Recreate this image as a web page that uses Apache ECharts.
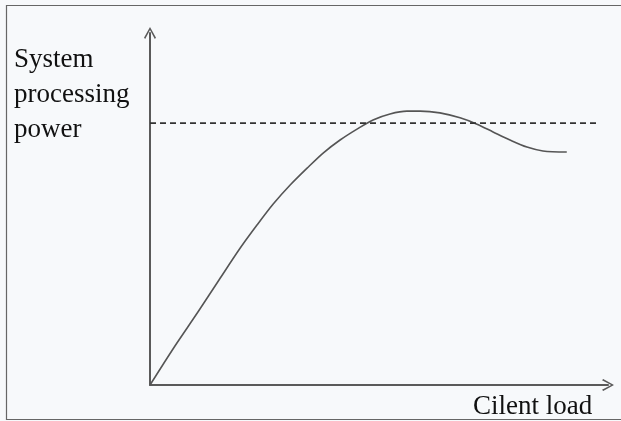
<!DOCTYPE html>
<html>
<head>
<meta charset="utf-8">
<script src="https://cdn.jsdelivr.net/npm/echarts@6/dist/echarts.min.js"></script>
<style>
html,body{margin:0;padding:0;background:#f7f9fb;}
#c{width:621px;height:421px;}
</style>
</head>
<body>
<div id="c"></div>
<script>
// Data (x: client load, y: system processing power)
const loadValues  = [0, 5.2, 10.5, 15.1, 19.7, 23.4, 26.9, 30.6, 34.3, 37.8, 41.5, 45.2, 48.7, 52.4, 56.1, 59.0, 63.3, 67.7, 71.4, 74.9, 78.6, 82.3, 85.8, 91.0];
const powerValues = [0, 10.6, 20.8, 29.9, 38.9, 45.5, 51.4, 56.8, 61.6, 65.9, 69.6, 72.7, 75.3, 77.0, 77.8, 77.8, 77.3, 75.9, 74.1, 71.9, 69.6, 67.6, 66.5, 66.2];
const capacityX = [0, 97.8];
const capacityY = [74.4, 74.4];
const yLabel = ['System', 'processing', 'power'];
const xLabel = 'Cilent load';

const chart = echarts.init(document.getElementById('c'), null, {renderer: 'canvas'});
const arrow = 'path://M0,90 L50,0 L100,90 L90,100 L50,24 L10,100 Z';
const serif = '"Liberation Serif", "DejaVu Serif", serif';

chart.setOption({
  backgroundColor: '#f7f9fb',
  animation: false,
  grid: {left: 150, right: 13, top: 33, bottom: 36},
  xAxis: {
    type: 'value', min: 0, max: 100,
    axisLine: {show: true, symbol: ['none', arrow], symbolSize: [15, 12],
      lineStyle: {color: '#5a5a5a', width: 2}},
    axisTick: {show: false}, axisLabel: {show: false}, splitLine: {show: false}
  },
  yAxis: {
    type: 'value', min: 0, max: 100,
    axisLine: {show: true, symbol: ['none', arrow], symbolSize: [15, 12],
      lineStyle: {color: '#5a5a5a', width: 2}},
    axisTick: {show: false}, axisLabel: {show: false}, splitLine: {show: false}
  },
  series: [
    {
      type: 'line', smooth: 0.3, symbol: 'none',
      data: loadValues.map((x, i) => [x, powerValues[i]]),
      lineStyle: {color: '#555', width: 1.6}
    },
    {
      type: 'line', symbol: 'none',
      data: capacityX.map((x, i) => [x, capacityY[i]]),
      lineStyle: {color: '#333', width: 1.6, type: [6, 4]}
    }
  ],
  graphic: [
    {type: 'rect', shape: {x: 6.5, y: 5.5, width: 700, height: 414}, silent: true,
      style: {fill: 'none', stroke: '#666', lineWidth: 1.2}},
    {type: 'text', left: 14, top: 42,
      style: {text: yLabel.join('\n'), font: '27px ' + serif, fill: '#111', lineHeight: 35}},
    {type: 'text', left: 473, top: 393,
      style: {text: xLabel, font: '27px ' + serif, fill: '#111'}}
  ]
});
</script>
</body>
</html>
